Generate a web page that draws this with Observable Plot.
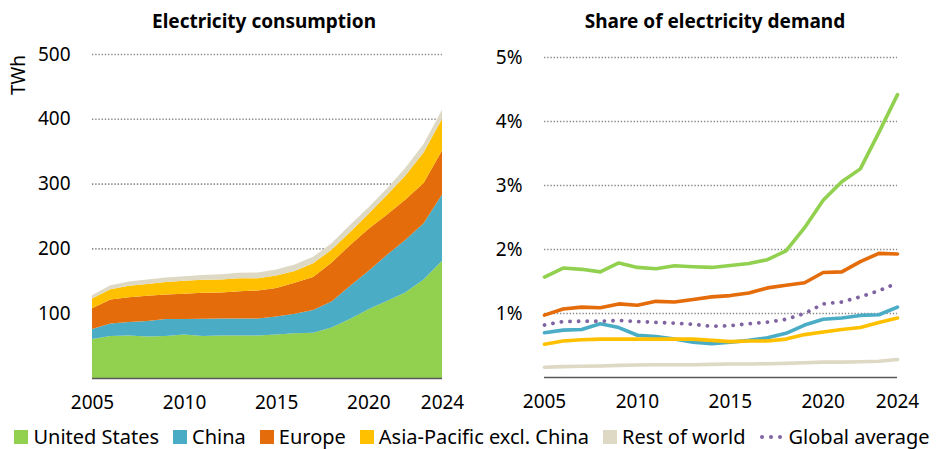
<!DOCTYPE html>
<html>
<head>
<meta charset="utf-8">
<script src="https://cdn.jsdelivr.net/npm/d3@7"></script>
<script src="https://cdn.jsdelivr.net/npm/@observablehq/plot@0.6"></script>
<style>
  body { margin: 0; background: #fff; font-family: "Noto Sans", sans-serif; color: #000; }
  #wrap { position: relative; width: 944px; height: 449px; overflow: hidden; }
  .title { position: absolute; font-weight: bold; font-size: 19px; white-space: nowrap; transform: translate(-50%, -50%); }
  .chart { position: absolute; top: 30px; }
  #unit { position: absolute; left: 18px; top: 75px; font-size: 19px; transform: translate(-50%, -50%) rotate(-90deg); }
  #legend { position: absolute; left: 0; top: 423px; width: 944px; display: flex; justify-content: center; gap: 14px; font-size: 20px; white-space: nowrap; }
  .item { display: flex; align-items: center; gap: 5px; }
  .sw { width: 14px; height: 14px; display: inline-block; }
  .dots { display: inline-flex; gap: 5px; align-items: center; width: 24px; }
  .dots i { width: 4px; height: 4px; border-radius: 50%; background: #8064A2; display: inline-block; }
</style>
</head>
<body>
<div id="wrap">
  <div class="title" style="left:264px; top:21px;">Electricity consumption</div>
  <div class="title" style="left:715px; top:21px;">Share of electricity demand</div>
  <div id="unit">TWh</div>
  <div id="left" class="chart" style="left:0px;"></div>
  <div id="right" class="chart" style="left:472px;"></div>
  <div id="legend"></div>
</div>
<script>
const years = [2005, 2006, 2007, 2008, 2009, 2010, 2011, 2012, 2013, 2014, 2015, 2016, 2017, 2018, 2019, 2020, 2021, 2022, 2023, 2024];
const regions = ["United States", "China", "Europe", "Asia-Pacific excl. China", "Rest of world"];
const colors = ["#92D050", "#4BACC6", "#E46C0A", "#FFC000", "#DDD9C4"];
const globalLabel = "Global average";
const globalColor = "#8064A2";

// Electricity consumption, TWh (stacked)
const consUS     = [60, 65, 65.5, 64, 65, 67, 65, 65.5, 65.5, 65.5, 67, 69, 70, 78, 91, 106, 119, 132, 152, 181];
const consChina  = [15.6, 19, 21, 24, 26, 24, 26.5, 26.5, 26.5, 26.5, 28, 30, 35, 40, 51, 59, 71, 81, 87, 102];
const consEurope = [32, 37, 38, 39, 38, 39, 40, 40, 42, 43, 44, 48, 51, 60, 63, 65, 62, 62, 62, 68];
const consAsia   = [15, 16, 18, 18, 19, 20, 20, 20, 20, 19, 19, 18, 21, 20, 20, 23, 30, 37, 47, 49];
const consRest   = [5, 6, 6.5, 7, 7, 7, 7.5, 8, 8.5, 9, 9.5, 10, 10, 10, 11, 10, 10, 12, 13, 14];

// Share of electricity demand, %
const shareUS     = [1.57, 1.71, 1.69, 1.65, 1.79, 1.72, 1.70, 1.745, 1.73, 1.72, 1.75, 1.78, 1.84, 1.98, 2.34, 2.77, 3.06, 3.26, 3.83, 4.42];
const shareChina  = [0.70, 0.74, 0.75, 0.84, 0.78, 0.66, 0.64, 0.60, 0.55, 0.53, 0.55, 0.58, 0.62, 0.69, 0.82, 0.91, 0.93, 0.97, 0.98, 1.10];
const shareEurope = [0.975, 1.07, 1.10, 1.09, 1.15, 1.13, 1.19, 1.18, 1.22, 1.26, 1.28, 1.32, 1.40, 1.44, 1.48, 1.64, 1.65, 1.81, 1.94, 1.93];
const shareAsia   = [0.52, 0.57, 0.59, 0.60, 0.60, 0.60, 0.60, 0.60, 0.60, 0.58, 0.56, 0.57, 0.57, 0.60, 0.67, 0.71, 0.75, 0.78, 0.86, 0.93];
const shareRest   = [0.16, 0.17, 0.175, 0.18, 0.19, 0.195, 0.20, 0.20, 0.20, 0.205, 0.21, 0.21, 0.215, 0.22, 0.23, 0.24, 0.24, 0.245, 0.255, 0.28];
const shareGlobal = [0.82, 0.875, 0.88, 0.88, 0.89, 0.875, 0.86, 0.85, 0.83, 0.80, 0.81, 0.84, 0.865, 0.91, 1.00, 1.15, 1.18, 1.26, 1.355, 1.48];

const xTicks = [2005, 2010, 2015, 2020, 2024];
const leftTicks = [100, 200, 300, 400, 500];
const rightTicks = [1, 2, 3, 4, 5];

const consSeries = [consUS, consChina, consEurope, consAsia, consRest];
const shareSeries = [shareUS, shareChina, shareEurope, shareAsia, shareRest];

const consData = [];
regions.forEach((r, i) => years.forEach((y, j) => consData.push({year: y, region: r, value: consSeries[i][j]})));

const shareData = [];
regions.forEach((r, i) => years.forEach((y, j) => shareData.push({year: y, region: r, value: shareSeries[i][j]})));
const globalData = years.map((y, j) => ({year: y, value: shareGlobal[j]}));

const style = {fontFamily: "'Noto Sans', sans-serif", fontSize: "19px", color: "#000", background: "transparent", overflow: "visible"};
const gridStyle = {stroke: "#8c8c8c", strokeOpacity: 1, strokeWidth: 1.6, strokeDasharray: "1.4,1.8"};

const left = Plot.plot({
  width: 472, height: 388,
  marginTop: 24, marginBottom: 40, marginLeft: 92, marginRight: 30,
  style,
  x: {domain: [2005, 2024]},
  y: {domain: [0, 500]},
  color: {domain: regions, range: colors},
  marks: [
    Plot.gridY(leftTicks, gridStyle),
    Plot.areaY(consData, {x: "year", y: "value", fill: "region", curve: "linear"}),
    Plot.ruleY([0], {stroke: "#595959", strokeWidth: 1.5}),
    Plot.axisY(leftTicks, {tickSize: 0, tickPadding: 22, label: null}),
    Plot.axisX(xTicks, {tickSize: 0, tickPadding: 17, tickFormat: d => String(d), label: null})
  ]
});
document.getElementById("left").append(left);

const drawOrder = [4, 1, 3, 2, 0];
const right = Plot.plot({
  width: 472, height: 388,
  marginTop: 27, marginBottom: 41, marginLeft: 72, marginRight: 47,
  style,
  x: {domain: [2005, 2024]},
  y: {domain: [0, 5]},
  color: {domain: regions, range: colors},
  marks: [
    Plot.gridY(rightTicks, gridStyle),
    Plot.ruleY([0], {stroke: "#595959", strokeWidth: 1.5}),
    ...drawOrder.map(i => Plot.lineY(shareData.filter(d => d.region === regions[i]), {x: "year", y: "value", stroke: "region", strokeWidth: 3.6, curve: "linear"})),
    Plot.lineY(globalData, {x: "year", y: "value", stroke: globalColor, strokeWidth: 3.8, strokeDasharray: "0.1,8.5", strokeLinecap: "round"}),
    Plot.axisY(rightTicks, {tickSize: 0, tickPadding: 22, tickFormat: d => d + "%", label: null}),
    Plot.axisX(xTicks, {tickSize: 0, tickPadding: 17, tickFormat: d => String(d), label: null})
  ]
});
document.getElementById("right").append(right);

const legend = document.getElementById("legend");
regions.forEach((r, i) => {
  const it = document.createElement("div");
  it.className = "item";
  it.innerHTML = `<span class="sw" style="background:${colors[i]}"></span><span>${r}</span>`;
  legend.append(it);
});
const g = document.createElement("div");
g.className = "item";
g.innerHTML = `<span class="dots"><i></i><i></i><i></i></span><span>${globalLabel}</span>`;
legend.append(g);
</script>
</body>
</html>
